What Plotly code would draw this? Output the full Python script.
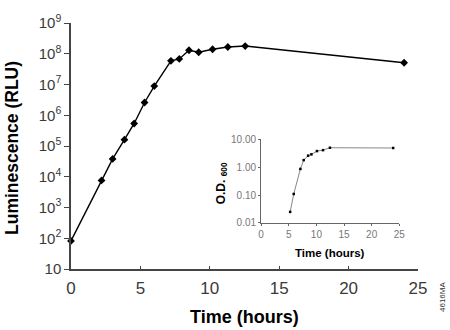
import plotly.graph_objects as go

# Main chart: luminescence vs time
time_h = [0, 2.2, 3.0, 3.85, 4.55, 5.3, 6.0, 7.2, 7.8, 8.5, 9.2, 10.2, 11.3, 12.55, 24.0]
lum_rlu = [82, 7600, 38000, 160000, 540000, 2.6e6, 8.9e6, 5.9e7, 6.8e7, 1.3e8, 1.12e8, 1.4e8, 1.66e8, 1.78e8, 5.1e7]

# Inset: optical density vs time
od_time = [5.25, 5.9, 7.1, 7.7, 8.5, 9.1, 10.1, 11.2, 12.45, 23.9]
od600 = [0.025, 0.11, 0.87, 1.8, 2.6, 2.9, 3.8, 4.1, 5.0, 4.9]

y_tickvals = [1e1, 1e2, 1e3, 1e4, 1e5, 1e6, 1e7, 1e8, 1e9]
y_ticktext = ["10", "10<sup>2</sup>", "10<sup>3</sup>", "10<sup>4</sup>", "10<sup>5</sup>",
              "10<sup>6</sup>", "10<sup>7</sup>", "10<sup>8</sup>", "10<sup>9</sup>"]
x_tickvals = [0, 5, 10, 15, 20, 25]

inset_y_tickvals = [0.01, 0.1, 1, 10]
inset_y_ticktext = ["0.01", "0.10", "1.00", "10.00"]

BOLD = "Liberation Sans, Arial, sans-serif"
LIGHT = "Liberation Sans, Arial, sans-serif"

fig = go.Figure()
fig.add_trace(go.Scatter(
    x=time_h, y=lum_rlu, mode="lines+markers",
    line=dict(color="black", width=1.4),
    marker=dict(symbol="diamond", size=6, color="black"),
    xaxis="x", yaxis="y", showlegend=False, cliponaxis=False))
fig.add_trace(go.Scatter(
    x=od_time, y=od600, mode="lines+markers",
    line=dict(color="#888888", width=1),
    marker=dict(symbol="square", size=2.5, color="black"),
    xaxis="x2", yaxis="y2", showlegend=False, cliponaxis=False))

fig.update_layout(
    width=450, height=330,
    margin=dict(l=71, r=32, t=19, b=61),
    paper_bgcolor="white", plot_bgcolor="white",
    xaxis=dict(domain=[0, 1], range=[0, 25], tickvals=x_tickvals,
               showgrid=False, zeroline=False, showline=True, linecolor="#444", linewidth=1.5,
               ticks="inside", ticklen=3, tickcolor="#444",
               tickfont=dict(family=LIGHT, size=17, color="#3a3a3a"), ticklabelstandoff=3),
    yaxis=dict(domain=[0, 1], type="log", range=[1, 9], tickvals=y_tickvals, ticktext=y_ticktext,
               showgrid=False, zeroline=False, showline=True, linecolor="#444", linewidth=1.5,
               ticks="outside", ticklen=5, tickcolor="#444",
               tickfont=dict(family=LIGHT, size=15, color="#3a3a3a")),
    xaxis2=dict(domain=[0.548, 0.946], range=[0, 25], tickvals=x_tickvals, anchor="y2",
                showgrid=False, zeroline=False, showline=True, linecolor="#666", linewidth=1.2,
                ticks="outside", ticklen=2, tickcolor="#666",
                tickfont=dict(family=LIGHT, size=10, color="#777")),
    yaxis2=dict(domain=[0.187, 0.527], type="log", range=[-2, 1], anchor="x2",
                tickvals=inset_y_tickvals, ticktext=inset_y_ticktext,
                showgrid=False, zeroline=False, showline=True, linecolor="#666", linewidth=1.2,
                ticks="outside", ticklen=2, tickcolor="#666",
                tickfont=dict(family=LIGHT, size=10, color="#777")),
)

fig.add_annotation(text="<b>Time (hours)</b>", xref="paper", yref="paper",
                   x=0.5, y=0, yshift=-48, xanchor="center", yanchor="middle", showarrow=False,
                   font=dict(family=BOLD, size=18, color="black"))
fig.add_annotation(text="<b>Luminescence (RLU)</b>", xref="paper", yref="paper",
                   x=0, xshift=-59, y=0.5, yshift=-2, textangle=-90, xanchor="center", yanchor="middle",
                   showarrow=False, font=dict(family=BOLD, size=17.5, color="black"))
fig.add_annotation(text="<b>Time (hours)</b>", xref="x2 domain", yref="y2 domain",
                   x=0.5, y=0, yshift=-30, xanchor="center", yanchor="middle", showarrow=False,
                   font=dict(family=BOLD, size=11.5, color="black"))
fig.add_annotation(text="<b>O.D.</b> <sub><b>600</b></sub>", xref="x2 domain", yref="y2 domain",
                   x=0, xshift=-39, y=0.5, yshift=-2, textangle=-90, xanchor="center", yanchor="middle",
                   showarrow=False, font=dict(family=BOLD, size=12, color="black"))
fig.add_annotation(text="4616MA", xref="paper", yref="paper",
                   x=1, xshift=24, y=0, yshift=-28, textangle=-90, xanchor="center", yanchor="middle",
                   showarrow=False, font=dict(family=LIGHT, size=8, color="#333"))

fig.write_html("out.html")
